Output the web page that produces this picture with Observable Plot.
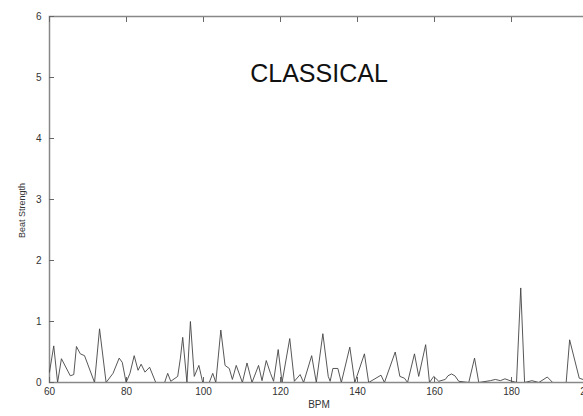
<!DOCTYPE html>
<html>
<head>
<meta charset="utf-8">
<script src="https://cdn.jsdelivr.net/npm/d3@7"></script>
<script src="https://cdn.jsdelivr.net/npm/@observablehq/plot@0.6"></script>
<style>
  html, body { margin: 0; padding: 0; background: #fff; overflow: hidden; }
  #chart svg { display: block; overflow: hidden; }
</style>
</head>
<body>
<div id="chart"></div>
<script>
const title = "CLASSICAL";
const xLabel = "BPM";
const yLabel = "Beat Strength";
const xTicks = [60, 80, 100, 120, 140, 160, 180, 200];
const yTicks = [0, 1, 2, 3, 4, 5, 6];

const bpm = [
  60.0, 61.1, 62.1, 63.1, 65.4, 66.3, 67.0, 68.0, 69.1, 71.7,
  73.0, 74.7, 76.5, 78.1, 78.9, 79.9, 80.9, 82.0, 83.0, 83.8,
  84.8, 86.0, 87.6, 89.9, 90.7, 91.5, 93.3, 94.0, 94.6, 95.7,
  96.6, 97.6, 98.8, 99.8, 101.5, 102.4, 103.2, 104.5, 105.6, 106.7,
  107.5, 108.5, 110.1, 111.3, 112.6, 114.3, 115.2, 116.3, 117.4, 118.2,
  119.4, 120.4, 122.4, 123.6, 125.1, 126.0, 128.1, 129.3, 131.0, 132.4,
  132.9, 133.6, 134.9, 135.8, 138.0, 139.3, 141.8, 142.9, 146.1, 147.0,
  149.8, 151.0, 152.2, 153.0, 154.8, 155.9, 157.7, 158.7, 159.8, 161.1,
  162.8, 163.5, 164.4, 165.3, 166.3, 168.9, 170.4, 171.5, 174.5, 175.8,
  177.1, 178.3, 179.6, 181.3, 182.4, 183.4, 185.3, 187.1, 189.3, 190.7,
  194.2, 195.1, 197.6, 200.0
];
const strength = [
  0.17, 0.60, 0.00, 0.39, 0.11, 0.13, 0.59, 0.47, 0.44, 0.00,
  0.88, 0.00, 0.15, 0.40, 0.33, 0.00, 0.15, 0.44, 0.20, 0.30,
  0.17, 0.25, 0.00, 0.00, 0.15, 0.02, 0.10, 0.40, 0.74, 0.00,
  1.00, 0.10, 0.28, 0.00, 0.00, 0.15, 0.00, 0.86, 0.28, 0.23,
  0.05, 0.28, 0.00, 0.32, 0.00, 0.28, 0.03, 0.36, 0.15, 0.02,
  0.54, 0.00, 0.72, 0.02, 0.13, 0.00, 0.44, 0.00, 0.80, 0.10,
  0.02, 0.23, 0.23, 0.00, 0.58, 0.00, 0.47, 0.00, 0.12, 0.00,
  0.50, 0.10, 0.07, 0.00, 0.47, 0.10, 0.62, 0.00, 0.10, 0.02,
  0.05, 0.11, 0.14, 0.11, 0.02, 0.00, 0.40, 0.00, 0.03, 0.05,
  0.03, 0.06, 0.03, 0.00, 1.55, 0.00, 0.03, 0.00, 0.09, 0.00,
  0.00, 0.70, 0.07, 0.02
];

const data = bpm.map((b, i) => ({bpm: b, s: strength[i]}));
const font = "'Liberation Sans', Arial, Helvetica, sans-serif";
const fmt = d3.format("d");

const chart = Plot.plot({
  width: 583,
  height: 416,
  marginTop: 16,
  marginBottom: 34,
  marginLeft: 49,
  marginRight: -5,
  style: {fontFamily: font, fontSize: "10px", color: "#333", background: "#fff"},
  x: {domain: [60, 200], ticks: xTicks},
  y: {domain: [0, 6], ticks: yTicks},
  marks: [
    Plot.frame({stroke: "#888", strokeWidth: 1.5}),
    // tick labels
    Plot.axisX(xTicks, {anchor: "bottom", tickSize: 0, tickPadding: 5, tickFormat: fmt, label: null, fill: "#333"}),
    Plot.axisY(yTicks, {anchor: "left", tickSize: 0, tickPadding: 8, tickFormat: fmt, label: null, fill: "#333"}),
    // inward ticks (outward ticks shifted inside the frame)
    Plot.axisX(xTicks, {anchor: "bottom", tickSize: 5, dy: -5, tickFormat: () => "", label: null, stroke: "#666"}),
    Plot.axisX(xTicks, {anchor: "top", tickSize: 5, dy: 5, tickFormat: () => "", label: null, stroke: "#666"}),
    Plot.axisY(yTicks, {anchor: "left", tickSize: 5, dx: 5, tickFormat: () => "", label: null, stroke: "#666"}),
    Plot.axisY(yTicks, {anchor: "right", tickSize: 5, dx: -5, tickFormat: () => "", label: null, stroke: "#666"}),
    Plot.line(data, {x: "bpm", y: "s", stroke: "#444", strokeWidth: 0.9, clip: true}),
    Plot.text([title], {frameAnchor: "top", dy: 48, text: d => d, fontSize: 25, fill: "#111", fontFamily: font}),
    Plot.text([xLabel], {frameAnchor: "bottom", dy: 25, text: d => d, fontSize: 10, fill: "#333"}),
    Plot.text([yLabel], {frameAnchor: "left", textAnchor: "middle", dx: -27, dy: 11, rotate: -90, text: d => d, fontSize: 9, fill: "#333"})
  ]
});
document.getElementById("chart").appendChild(chart);
</script>
</body>
</html>
